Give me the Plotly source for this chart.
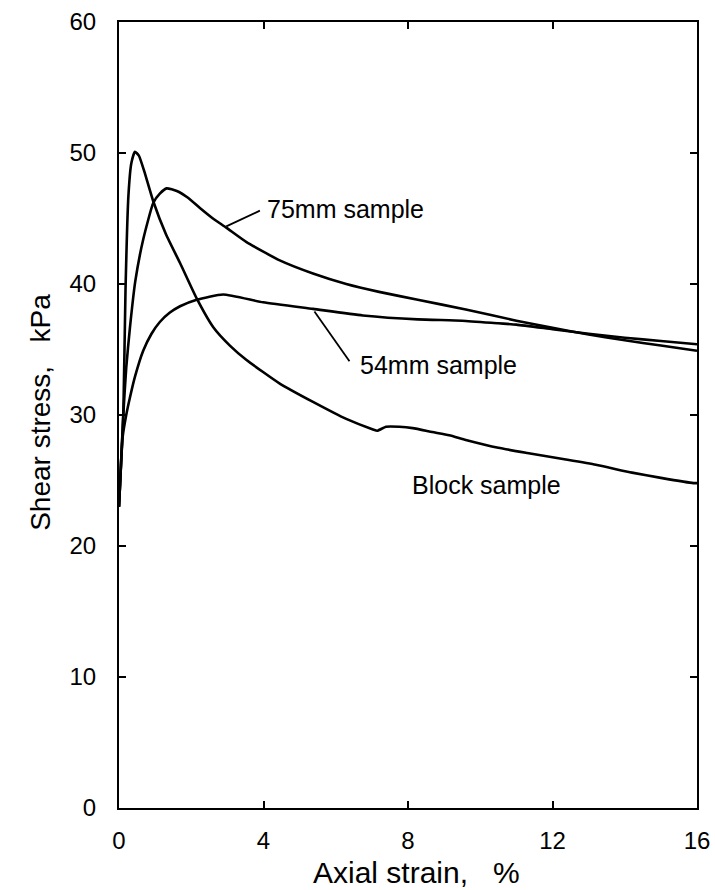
import plotly.graph_objects as go

# Shear stress vs axial strain for three sample types
block_strain = [0.0, 0.06, 0.12, 0.18, 0.26, 0.34, 0.44, 0.55, 0.7, 0.95, 1.3, 1.69, 2.15,
                2.61, 3.07, 3.53, 4.45, 5.37, 6.29, 7.03, 7.15, 7.39, 7.76, 8.13, 8.67,
                9.14, 9.6, 10.5, 11.3, 12.37, 13.2, 14.2, 15.0, 15.9, 16.0]
block_stress = [23.0, 26.5, 30.1, 39.5, 46.7, 49.2, 50.1, 49.8, 48.6, 46.3, 43.8, 41.6, 38.9,
                36.7, 35.3, 34.2, 32.4, 31.0, 29.7, 28.9, 28.8, 29.1, 29.1, 29.0, 28.7,
                28.45, 28.1, 27.5, 27.1, 26.6, 26.2, 25.6, 25.2, 24.8, 24.8]

mm75_strain = [0.0, 0.06, 0.12, 0.2, 0.3, 0.45, 0.67, 0.95, 1.13, 1.32, 1.6, 1.9, 2.24,
               2.6, 2.97, 3.53, 4.45, 5.37, 6.29, 7.2, 8.27, 9.6, 11.0, 12.0, 13.0, 14.0,
               15.0, 16.0]
mm75_stress = [23.0, 26.5, 30.1, 33.6, 36.6, 40.2, 43.4, 46.2, 46.9, 47.3, 47.1, 46.6, 45.8,
               45.0, 44.3, 43.2, 41.8, 40.8, 40.0, 39.4, 38.8, 38.05, 37.2, 36.65, 36.15, 35.7,
               35.3, 34.9]

mm54_strain = [0.0, 0.06, 0.1, 0.2, 0.3, 0.45, 0.67, 0.9, 1.13, 1.4, 1.69, 2.15, 2.88, 3.99,
               5.37, 6.75, 8.27, 9.5, 10.5, 11.0, 12.0, 13.0, 14.0, 15.0, 16.0]
mm54_stress = [23.0, 26.5, 28.3, 30.0, 31.3, 33.0, 34.9, 36.2, 37.1, 37.8, 38.3, 38.8, 39.2,
               38.6, 38.1, 37.6, 37.3, 37.2, 37.0, 36.9, 36.55, 36.2, 35.9, 35.65, 35.4]

# Curve labels and their leader lines (strain, stress)
label_texts = ["75mm sample", "54mm sample", "Block sample"]
label_x = [4.03, 6.61, 8.06]
label_y = [45.7, 33.8, 24.65]
leader_75_x = [2.97, 3.9]
leader_75_y = [44.4, 45.6]
leader_54_x = [5.41, 6.38]
leader_54_y = [37.9, 34.1]

x_ticks = [0, 4, 8, 12, 16]
y_ticks = [0, 10, 20, 30, 40, 50, 60]

FONT = "Liberation Sans, Arial, Helvetica, sans-serif"
GAP = "\u00a0\u00a0\u00a0"
curve_line = dict(color="black", width=2.6, shape="spline", smoothing=0.5)

fig = go.Figure()
for xs, ys, name in [(block_strain, block_stress, "Block sample"),
                     (mm75_strain, mm75_stress, "75mm sample"),
                     (mm54_strain, mm54_stress, "54mm sample")]:
    fig.add_trace(go.Scatter(x=xs, y=ys, mode="lines", line=curve_line,
                             name=name, showlegend=False, hoverinfo="skip"))

for xs, ys in [(leader_75_x, leader_75_y), (leader_54_x, leader_54_y)]:
    fig.add_trace(go.Scatter(x=xs, y=ys, mode="lines",
                             line=dict(color="black", width=1.8),
                             showlegend=False, hoverinfo="skip"))

for t, lx, ly in zip(label_texts, label_x, label_y):
    fig.add_annotation(x=lx, y=ly, xref="x", yref="y", text=t, showarrow=False,
                       xanchor="left", yanchor="middle",
                       font=dict(family=FONT, size=25, color="black"))

# Axis titles
fig.add_annotation(x=0.514, y=-0.082, xref="paper", yref="paper",
                   text="Axial strain," + GAP + "%", showarrow=False,
                   xanchor="center", yanchor="middle",
                   font=dict(family=FONT, size=30, color="black"))
fig.add_annotation(x=-0.135, y=0.504, xref="paper", yref="paper",
                   text="Shear stress," + GAP + "kPa", showarrow=False, textangle=-90,
                   xanchor="center", yanchor="middle",
                   font=dict(family=FONT, size=28, color="black"))

axis_common = dict(showline=True, linewidth=2, linecolor="black", mirror="ticks",
                   ticks="inside", ticklen=7, tickwidth=1.5, tickcolor="black",
                   showgrid=False, zeroline=False, automargin=False,
                   tickfont=dict(family=FONT, size=24, color="black"))

fig.update_xaxes(range=[0, 16], tickvals=x_ticks, ticktext=[str(v) for v in x_ticks],
                 ticklabelstandoff=10, **axis_common)
fig.update_yaxes(range=[0, 60], tickvals=y_ticks, ticktext=[str(v) for v in y_ticks],
                 ticklabelstandoff=16, **axis_common)

fig.update_layout(width=715, height=890,
                  margin=dict(l=119, r=18, t=22, b=82),
                  paper_bgcolor="white", plot_bgcolor="white",
                  font=dict(family=FONT, color="black"))

fig.write_html("out.html")
